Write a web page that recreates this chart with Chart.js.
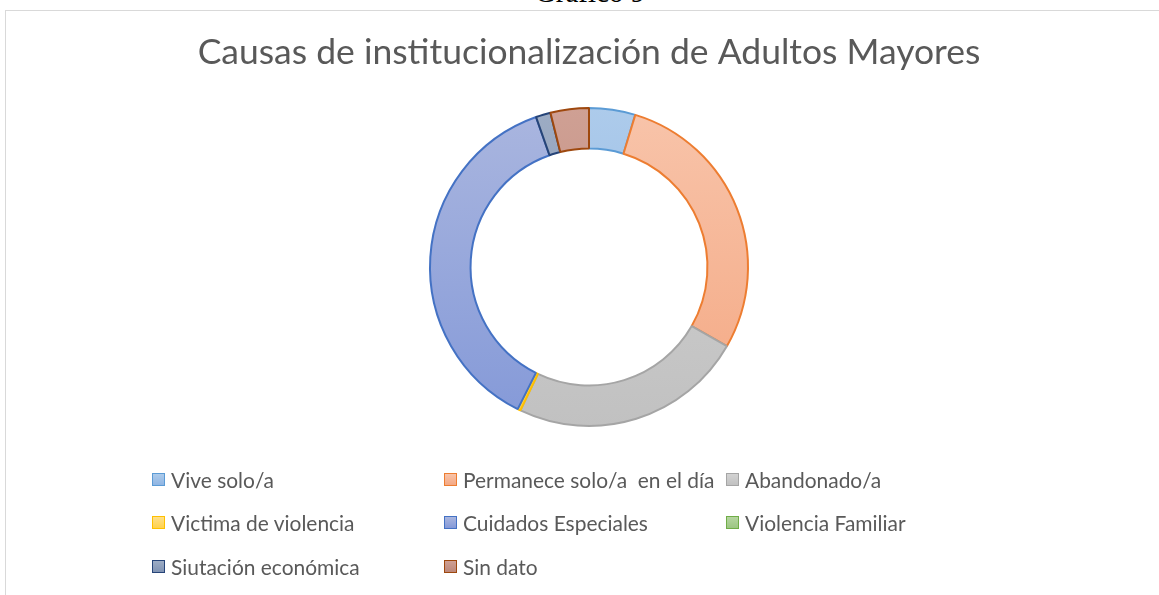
<!DOCTYPE html>
<html>
<head>
<meta charset="utf-8">
<script src="https://cdn.jsdelivr.net/npm/chart.js@4.4.1/dist/chart.umd.min.js"></script>
<style>
  html, body { margin: 0; padding: 0; background: #fff; }
  #wrap { position: relative; width: 1159px; height: 595px; overflow: hidden; }
  #frame { position: absolute; left: 5px; top: 10px; right: -2px; bottom: -2px;
           border-top: 1px solid #d9d9d9; border-left: 1px solid #d9d9d9; }
  #caption { position: absolute; left: 0; width: 1180px; top: -22px; text-align: center;
             font: 29px/1 "Liberation Serif", serif; color: #000; }
  canvas { position: absolute; left: 0; top: 0; }
  .leg { position: absolute; height: 24px; display: flex; align-items: center;
         font-family: Lato, sans-serif; color: #595959; white-space: pre; }
  .leg i { display: inline-block; box-sizing: border-box; width: 13px; height: 13px;
           border: 1.5px solid; margin-right: 6px; }
</style>
</head>
<body>
<div id="wrap">
  <div id="frame"></div>
  <div id="caption">Gráfico 9</div>
  <canvas id="chart" width="1159" height="595"></canvas>
</div>
<script>
const title = "Causas de institucionalización de Adultos Mayores";
const labels = ["Vive solo/a", "Permanece solo/a  en el día", "Abandonado/a",
                "Victima de violencia", "Cuidados Especiales", "Violencia Familiar",
                "Siutación económica", "Sin dato"];
const values = [4.7, 28.6, 23.8, 0.3, 37.2, 0, 1.5, 3.9];

const lineColors = ["#5b9bd5", "#ed7d31", "#a5a5a5", "#ffc000", "#4472c4", "#70ad47", "#264478", "#9e480e"];
const topColors = ["#adcbeb", "#f8c4aa", "#d3d3d3", "#ffe08a", "#aab6df", "#b5d5a0", "#9dacc4", "#cfa094"];
const bottomColors = ["#8fb5e3", "#f4a883", "#c1c1c1", "#ffd24d", "#8499d8", "#9cc682", "#8093b3", "#bc887a"];

// measure text to pick a font size that gives the reference width
function fitSize(text, family, width) {
  const c = document.createElement("canvas").getContext("2d");
  c.font = "100px " + family;
  return 100 * width / c.measureText(text).width;
}

function fill(ctx) {
  const i = ctx.dataIndex;
  const area = ctx.chart.chartArea;
  if (!area) return topColors[i];
  const g = ctx.chart.ctx.createLinearGradient(0, area.top, 0, area.bottom);
  g.addColorStop(0, topColors[i]);
  g.addColorStop(1, bottomColors[i]);
  return g;
}

const titleSize = fitSize(title, "Lato", 783);
const lh = titleSize * 1.2;
const padTop = 53 - lh / 2;
const padBottom = 107 - padTop - lh;

new Chart(document.getElementById("chart"), {
  type: "doughnut",
  data: {
    labels: labels,
    datasets: [{
      data: values,
      backgroundColor: fill,
      borderColor: lineColors,
      borderWidth: 2,
      hoverOffset: 0
    }]
  },
  options: {
    responsive: false,
    animation: false,
    cutout: "74.5%",
    layout: { padding: { left: 19, bottom: 168 } },
    plugins: {
      legend: { display: false },
      tooltip: { enabled: false },
      title: {
        display: true,
        text: title,
        color: "#595959",
        font: { family: "Lato", size: titleSize, weight: "normal" },
        padding: { top: padTop, bottom: padBottom }
      }
    }
  }
});

// legend laid out in three columns like the original
const legSize = fitSize("Vive solo/a", "Lato", 103);
const cols = [152, 444, 726];
const rows = [479, 522, 566];
const wrap = document.getElementById("wrap");
labels.forEach((lab, i) => {
  const d = document.createElement("div");
  d.className = "leg";
  d.style.left = cols[i % 3] + "px";
  d.style.top = (rows[Math.floor(i / 3)] - 12) + "px";
  d.style.fontSize = legSize + "px";
  const box = document.createElement("i");
  box.style.borderColor = lineColors[i];
  box.style.background = "linear-gradient(" + topColors[i] + "," + bottomColors[i] + ")";
  d.appendChild(box);
  d.appendChild(document.createTextNode(lab));
  wrap.appendChild(d);
});
</script>
</body>
</html>
